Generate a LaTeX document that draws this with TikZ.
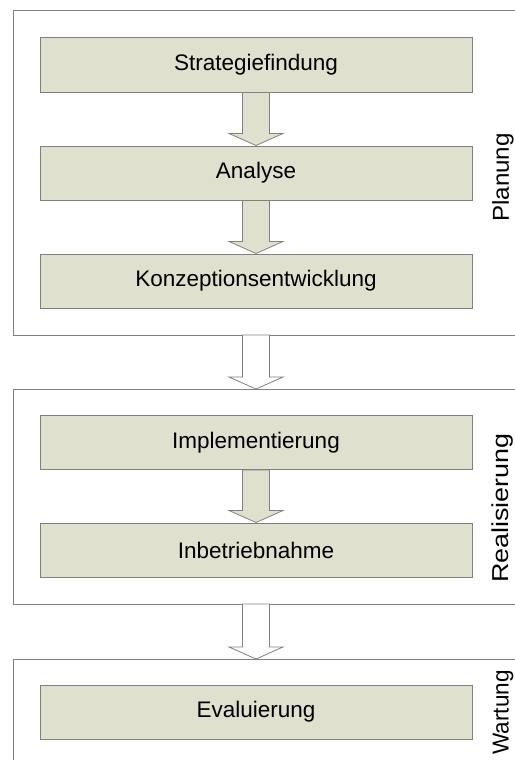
\documentclass[tikz,border=0pt]{standalone}
\usepackage{fontspec}
\setmainfont{Liberation Sans}
\usetikzlibrary{calc}
\definecolor{boxfill}{HTML}{DFE0CE}
\definecolor{linegray}{HTML}{808080}
\tikzset{
  stepbox/.style={draw=linegray, line width=1pt, fill=boxfill, minimum width=432pt, minimum height=54pt, inner sep=0pt, font=\fontsize{22.5}{27}\selectfont},
  frameline/.style={draw=linegray, line width=1pt},
  phaselabel/.style={rotate=90, inner sep=0pt, font=\fontsize{23}{27}\selectfont},
  blockarrow/.style={draw=linegray, line width=0.8pt, line join=miter}
}
\newcommand{\blockarr}[3]{%
  \draw[blockarrow, fill=#3] ($(#1)+(-13.5,0)$) -- ($(#1)+(13.5,0)$) -- ($(#2)+(13.5,-12)$) -- ($(#2)+(27,-12)$) -- (#2) -- ($(#2)+(-27,-12)$) -- ($(#2)+(-13.5,-12)$) -- cycle;}
\begin{document}
\begin{tikzpicture}[x=1pt,y=-1pt]
\useasboundingbox (0,0) rectangle (514,760);
% frames
\draw[frameline] (515,11) -- (13,11) -- (13,335) -- (515,335);
\draw[frameline] (515,389) -- (13,389) -- (13,604) -- (515,604);
\draw[frameline] (515,659) -- (13,659) -- (13,761);
\coordinate (f1b) at (256,335);
\coordinate (f2t) at (256,389);
\coordinate (f2b) at (256,604);
\coordinate (f3t) at (256,659);
% boxes
\node[stepbox] (s1) at (256,65) {Strategiefindung};
\node[stepbox] (s2) at (256,173) {Analyse};
\node[stepbox] (s3) at (256,281) {Konzeptionsentwicklung};
\node[stepbox] (s4) at (256,442.5) {Implementierung};
\node[stepbox] (s5) at (256,550) {Inbetriebnahme};
\node[stepbox] (s6) at (256,712) {Evaluierung};
% arrows
\blockarr{s1.south}{s2.north}{boxfill}
\blockarr{s2.south}{s3.north}{boxfill}
\blockarr{s4.south}{s5.north}{boxfill}
\blockarr{f1b}{f2t}{white}
\blockarr{f2b}{f3t}{white}
% labels
\node[phaselabel] (l1) at (503,177.5) {\scalebox{1.05}[1]{Planung}};
\node[phaselabel] (l2) at (503,508) {\scalebox{1.17}[1]{Realisierung}};
\node[phaselabel] (l3) at (503,712.5) {\scalebox{0.98}[1]{Wartung}};
\end{tikzpicture}
\end{document}
